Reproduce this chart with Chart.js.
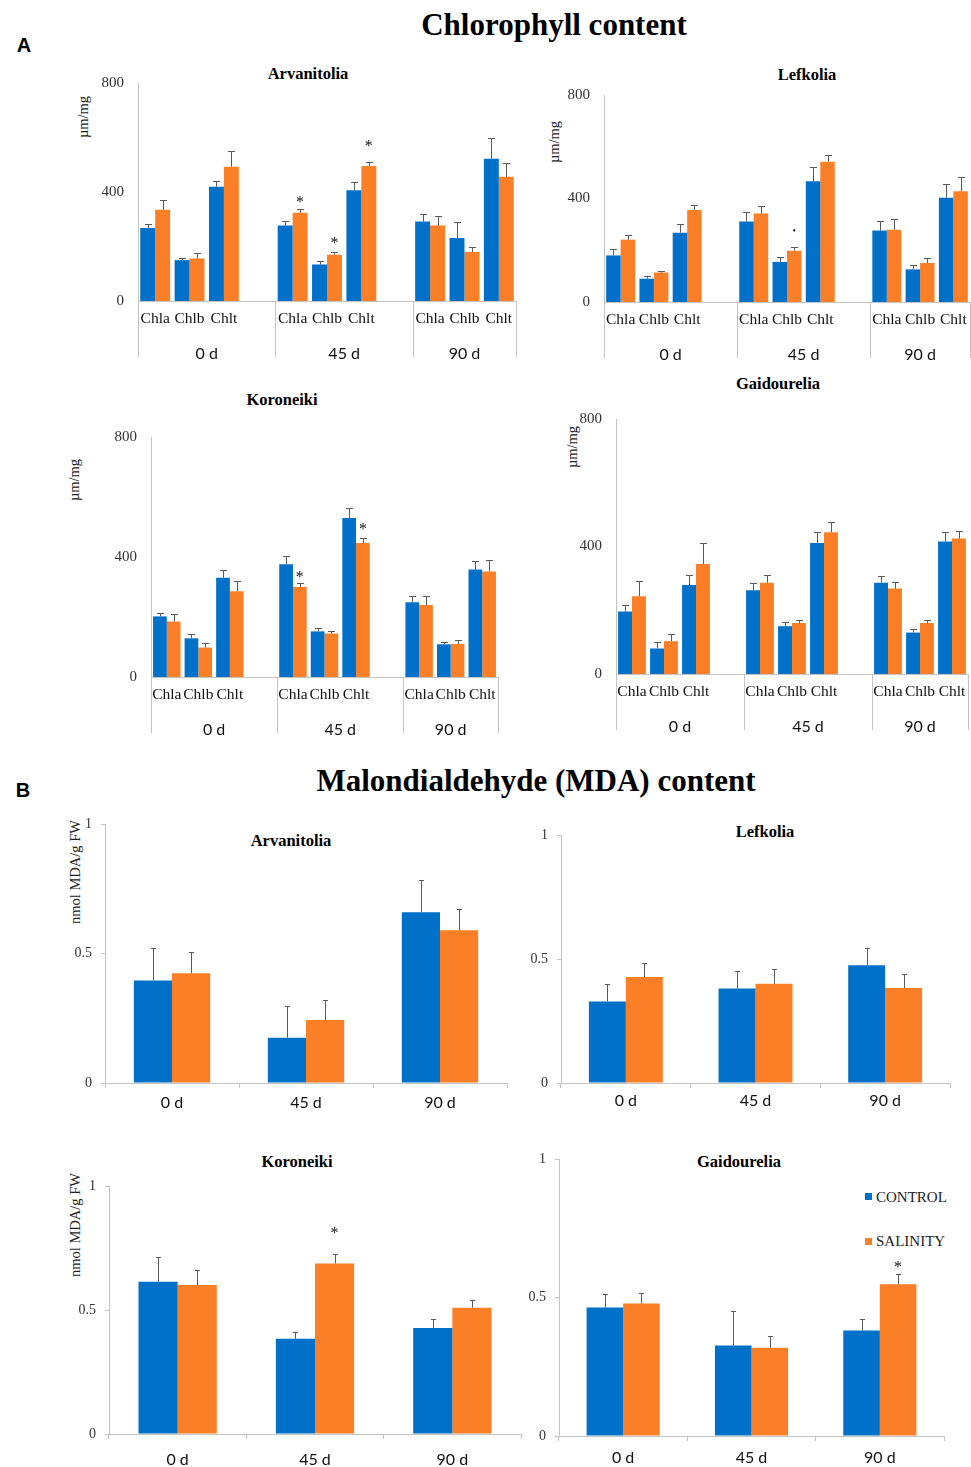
<!DOCTYPE html>
<html lang="en">
<head>
<meta charset="UTF-8">
<title>Chlorophyll and MDA content</title>
<script src="https://cdn.jsdelivr.net/npm/chart.js"></script>
<style>
  html, body { margin: 0; padding: 0; background: #fff; overflow: hidden; }
  #page { position: relative; width: 971px; height: 1467px; overflow: hidden; background: #fff; }
  canvas { position: absolute; }
  .txt { position: absolute; transform: translate(-50%, -50%); white-space: nowrap; color: #000; }
  .serif { font-family: "Liberation Serif", "DejaVu Serif", serif; }
  .big { font-weight: bold; font-size: 31px; }
  .ptitle { font-weight: bold; font-size: 16.5px; }
  .letter { font-family: "Liberation Sans", Arial, sans-serif; font-weight: bold; font-size: 20px; }
  .ytitle { transform: translate(-50%, -50%) rotate(-90deg); font-size: 14.5px; color: #222; }
  .key { position: absolute; width: 7px; height: 7px; }
  .keytxt { position: absolute; transform: translateY(-50%); font-size: 15px; color: #222; white-space: nowrap; }
</style>
</head>
<body>
<div id="page">
  <div class="txt letter" style="left:24px; top:45px">A</div>
  <div class="txt letter" style="left:23px; top:790px">B</div>
  <div class="txt serif big" style="left:554px; top:25px">Chlorophyll content</div>
  <div class="txt serif big" style="left:536px; top:781px">Malondialdehyde (MDA) content</div>

  <div class="txt serif ptitle" style="left:308px; top:74px">Arvanitolia</div>
  <div class="txt serif ptitle" style="left:807px; top:75px">Lefkolia</div>
  <div class="txt serif ptitle" style="left:282px; top:400px">Koroneiki</div>
  <div class="txt serif ptitle" style="left:778px; top:384px">Gaidourelia</div>
  <div class="txt serif ptitle" style="left:291px; top:841px">Arvanitolia</div>
  <div class="txt serif ptitle" style="left:765px; top:832px">Lefkolia</div>
  <div class="txt serif ptitle" style="left:297px; top:1162px">Koroneiki</div>
  <div class="txt serif ptitle" style="left:739px; top:1162px">Gaidourelia</div>

  <div class="txt serif ytitle" style="left:83px; top:117px">µm/mg</div>
  <div class="txt serif ytitle" style="left:554px; top:142px">µm/mg</div>
  <div class="txt serif ytitle" style="left:74px; top:480px">µm/mg</div>
  <div class="txt serif ytitle" style="left:572px; top:447px">µm/mg</div>
  <div class="txt serif ytitle" style="left:75px; top:872px">nmol MDA/g FW</div>
  <div class="txt serif ytitle" style="left:75px; top:1225px">nmol MDA/g FW</div>

  <div class="key" style="left:865px; top:1193px; background:#0070C8"></div>
  <div class="keytxt serif" style="left:876px; top:1197px">CONTROL</div>
  <div class="key" style="left:865px; top:1238px; background:#FB7F26"></div>
  <div class="keytxt serif" style="left:876px; top:1241px">SALINITY</div>

  <canvas id="chlArv"></canvas>
  <canvas id="chlLef"></canvas>
  <canvas id="chlKor"></canvas>
  <canvas id="chlGai"></canvas>
  <canvas id="mdaArv"></canvas>
  <canvas id="mdaLef"></canvas>
  <canvas id="mdaKor"></canvas>
  <canvas id="mdaGai"></canvas>
</div>

<script>
// ---- data ----
const chlLabels = ['Chla', 'Chlb', 'Chlt', '', 'Chla', 'Chlb', 'Chlt', '', 'Chla', 'Chlb', 'Chlt'];
const dayLabels = ['0 d', '45 d', '90 d'];
const chlMax = 800, chlStep = 400;
const mdaMax = 1, mdaStep = 0.5;

// chlorophyll, µm/mg (blank slot between harvest days)
const arvChlControl    = [268, 150, 419, null, 277, 134, 406, null, 292, 231, 522];
const arvChlControlSd  = [15, 8, 22, null, 15, 13, 30, null, 29, 58, 76];
const arvChlSalinity   = [335, 156, 493, null, 324, 170, 495, null, 277, 180, 456];
const arvChlSalinitySd = [37, 19, 56, null, 14, 8, 15, null, 34, 19, 49];
const arvChlStars      = [null, null, null, null, 372, 223, 579, null, null, null, null];

const lefChlControl    = [180, 90, 268, null, 311, 155, 467, null, 276, 126, 403];
const lefChlControlSd  = [23, 12, 33, null, 38, 19, 55, null, 38, 17, 52];
const lefChlSalinity   = [241, 114, 356, null, 342, 198, 542, null, 279, 151, 428];
const lefChlSalinitySd = [18, 7, 19, null, 29, 15, 27, null, 40, 20, 56];
const lefChlStars      = [null, null, null, null, null, 277, null, null, null, null, null];

const korChlControl    = [202, 129, 331, null, 376, 152, 530, null, 249, 109, 358];
const korChlControlSd  = [13, 13, 26, null, 26, 11, 34, null, 21, 7, 28];
const korChlSalinity   = [185, 98, 286, null, 300, 145, 447, null, 240, 110, 352];
const korChlSalinitySd = [25, 15, 35, null, 15, 9, 17, null, 29, 13, 39];
const korChlStars      = [null, null, null, null, 342, null, 501, null, null, null, null];

const gaiChlControl    = [196, 80, 279, null, 263, 150, 411, null, 286, 130, 416];
const gaiChlControlSd  = [22, 20, 32, null, 21, 14, 34, null, 23, 10, 31];
const gaiChlSalinity   = [244, 103, 345, null, 286, 160, 445, null, 268, 160, 425];
const gaiChlSalinitySd = [48, 21, 67, null, 25, 10, 32, null, 20, 8, 25];

// MDA, nmol MDA/g FW
const arvMdaControl    = [0.396, 0.175, 0.659];
const arvMdaControlSd  = [0.125, 0.121, 0.124];
const arvMdaSalinity   = [0.424, 0.243, 0.590];
const arvMdaSalinitySd = [0.080, 0.077, 0.080];

const lefMdaControl    = [0.329, 0.381, 0.475];
const lefMdaControlSd  = [0.070, 0.071, 0.071];
const lefMdaSalinity   = [0.427, 0.400, 0.383];
const lefMdaSalinitySd = [0.058, 0.059, 0.056];

const korMdaControl    = [0.614, 0.384, 0.427];
const korMdaControlSd  = [0.101, 0.029, 0.035];
const korMdaSalinity   = [0.601, 0.688, 0.509];
const korMdaSalinitySd = [0.062, 0.039, 0.031];
const korMdaStars      = [null, 0.821, null];

const gaiMdaControl    = [0.464, 0.327, 0.381];
const gaiMdaControlSd  = [0.049, 0.123, 0.042];
const gaiMdaSalinity   = [0.478, 0.319, 0.548];
const gaiMdaSalinitySd = [0.039, 0.043, 0.037];
const gaiMdaStars      = [null, null, 0.621];

// ---- styling ----
const blue = '#0070C8', orange = '#FB7F26';
const axisGray = '#c4c4c4', errGray = '#5a5a5a';
const serif = '"Liberation Serif", "DejaVu Serif", serif';
const sans = 'Lato, "Noto Sans", sans-serif';

// error bars (upper only) and significance marks
function errorBars(cap, mark) {
  return {
    id: 'errorBars',
    afterDatasetsDraw(chart) {
      const ctx = chart.ctx, y = chart.scales.y;
      chart.data.datasets.forEach((ds, di) => {
        const meta = chart.getDatasetMeta(di);
        ds.data.forEach((v, i) => {
          if (v == null) return;
          const bar = meta.data[i];
          const x = Math.round(bar.x) + 0.5;
          const top = Math.round(y.getPixelForValue(v + ds.errors[i])) + 0.5;
          ctx.save();
          ctx.strokeStyle = errGray;
          ctx.lineWidth = 1;
          ctx.beginPath();
          ctx.moveTo(x, bar.y);
          ctx.lineTo(x, top);
          ctx.moveTo(x - cap, top);
          ctx.lineTo(x + cap, top);
          ctx.stroke();
          if (ds.marks && ds.marks[i] != null) {
            const my = y.getPixelForValue(ds.marks[i]);
            ctx.fillStyle = '#111';
            ctx.textAlign = 'center';
            ctx.textBaseline = 'alphabetic';
            ctx.font = mark.size + 'px ' + serif;
            ctx.fillText(mark.ch, bar.x, my + mark.size * mark.lift);
          }
          ctx.restore();
        });
      });
    }
  };
}

// second category row (days) with separators for the chlorophyll panels
const chlGroups = {
  id: 'chlGroups',
  afterDraw(chart) {
    const {ctx, chartArea: a, scales: {x}} = chart;
    const w = (a.right - a.left) / chlLabels.length;
    const starts = [0];
    chlLabels.forEach((l, i) => { if (l === '') starts.push(i + 1); });
    ctx.save();
    ctx.strokeStyle = axisGray;
    ctx.lineWidth = 1;
    ctx.beginPath();
    const cuts = starts.map(s => x.getPixelForValue(s) - w / 2).concat([a.right]);
    cuts.forEach(cx => {
      const px = Math.round(cx) + 0.5;
      ctx.moveTo(px, a.bottom);
      ctx.lineTo(px, a.bottom + 56);
    });
    ctx.stroke();
    ctx.fillStyle = '#111';
    ctx.font = '16px ' + sans;
    ctx.textAlign = 'center';
    ctx.textBaseline = 'alphabetic';
    starts.forEach((s, g) => {
      const cx = (cuts[g] + cuts[g + 1]) / 2;
      ctx.fillText(dayLabels[g], cx, a.bottom + 58);
    });
    ctx.restore();
  }
};

function panel(id, area, labels, ctrl, ctrlSd, sal, salSd, stars, kind, extra) {
  const mL = 60, mT = 20, mR = 14, mB = 70;
  const canvas = document.getElementById(id);
  canvas.width = area.right - area.left + mL + mR;
  canvas.height = area.bottom - area.top + mT + mB;
  canvas.style.left = (area.left - mL) + 'px';
  canvas.style.top = (area.top - mT) + 'px';
  const chl = kind === 'chl';
  const cp = chl ? 0.87 : 0.57;
  new Chart(canvas, {
    type: 'bar',
    data: {
      labels: labels,
      datasets: [
        { label: 'CONTROL', data: ctrl, errors: ctrlSd, backgroundColor: blue,
          categoryPercentage: cp, barPercentage: 1 },
        { label: 'SALINITY', data: sal, errors: salSd, marks: stars, backgroundColor: orange,
          categoryPercentage: cp, barPercentage: 1 }
      ]
    },
    options: {
      responsive: false,
      animation: false,
      layout: { padding: { top: mT, right: mR, left: 0, bottom: 0 } },
      plugins: { legend: { display: false }, title: { display: false }, tooltip: { enabled: false } },
      scales: {
        x: {
          grid: chl ? { display: false, drawTicks: false }
                    : { display: true, drawOnChartArea: false, drawTicks: true, tickLength: 5, color: axisGray },
          border: { display: true, color: axisGray },
          ticks: {
            autoSkip: false, maxRotation: 0, minRotation: 0,
            padding: chl ? 9 : extra.xPad,
            color: '#111',
            font: chl ? { family: serif, size: 15.5 } : { family: sans, size: 16 }
          },
          afterFit: s => { s.height = mB; }
        },
        y: {
          min: 0, max: chl ? chlMax : mdaMax,
          grid: chl ? { display: false, drawTicks: false }
                    : { display: true, drawOnChartArea: false, drawTicks: true, tickLength: 4, color: axisGray },
          border: { display: true, color: axisGray },
          ticks: {
            stepSize: chl ? chlStep : mdaStep,
            padding: chl ? 14 : 9,
            color: '#333',
            font: { family: serif, size: chl ? 15 : 14 },
            callback: v => String(v)
          },
          afterFit: s => { s.width = mL; }
        }
      }
    },
    plugins: chl ? [errorBars(3.5, extra.mark), chlGroups] : [errorBars(2.5, extra.mark)]
  });
}

const star = { ch: '*', size: 16, lift: 0.48 };
const dot = { ch: '•', size: 10, lift: 0.33 };

panel('chlArv', { left: 138, right: 516, top: 80, bottom: 301 }, chlLabels,
  arvChlControl, arvChlControlSd, arvChlSalinity, arvChlSalinitySd, arvChlStars, 'chl', { mark: star });
panel('chlLef', { left: 604, right: 970, top: 92, bottom: 302 }, chlLabels,
  lefChlControl, lefChlControlSd, lefChlSalinity, lefChlSalinitySd, lefChlStars, 'chl', { mark: dot });
panel('chlKor', { left: 151, right: 498, top: 434, bottom: 677 }, chlLabels,
  korChlControl, korChlControlSd, korChlSalinity, korChlSalinitySd, korChlStars, 'chl', { mark: star });
panel('chlGai', { left: 616, right: 968, top: 416, bottom: 674 }, chlLabels,
  gaiChlControl, gaiChlControlSd, gaiChlSalinity, gaiChlSalinitySd, null, 'chl', { mark: star });

panel('mdaArv', { left: 105, right: 507, top: 824, bottom: 1083 }, dayLabels,
  arvMdaControl, arvMdaControlSd, arvMdaSalinity, arvMdaSalinitySd, null, 'mda', { mark: star, xPad: 5 });
panel('mdaLef', { left: 561, right: 950, top: 835, bottom: 1083 }, dayLabels,
  lefMdaControl, lefMdaControlSd, lefMdaSalinity, lefMdaSalinitySd, null, 'mda', { mark: star, xPad: 3 });
panel('mdaKor', { left: 109, right: 521, top: 1186, bottom: 1434 }, dayLabels,
  korMdaControl, korMdaControlSd, korMdaSalinity, korMdaSalinitySd, korMdaStars, 'mda', { mark: star, xPad: 11 });
panel('mdaGai', { left: 559, right: 944, top: 1159, bottom: 1436 }, dayLabels,
  gaiMdaControl, gaiMdaControlSd, gaiMdaSalinity, gaiMdaSalinitySd, gaiMdaStars, 'mda', { mark: star, xPad: 7 });
</script>
</body>
</html>
